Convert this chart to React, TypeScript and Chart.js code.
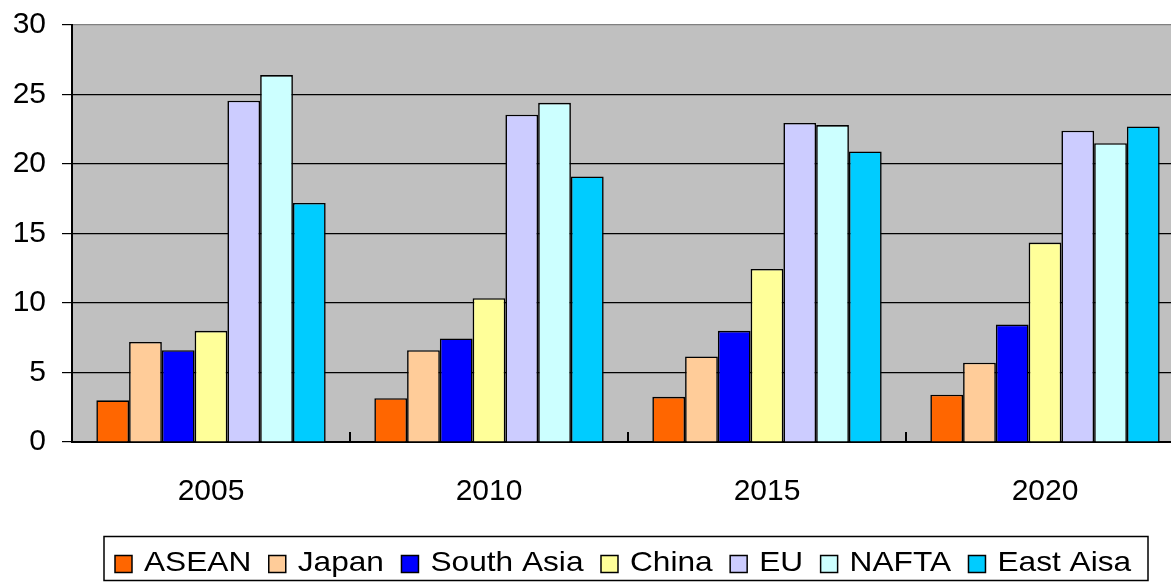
import React, { useEffect, useRef } from "react";
import { Chart, registerables } from "chart.js";

Chart.register(...registerables);

// ---- data ----
const categories = ["2005", "2010", "2015", "2020"];
const seriesNames = ["ASEAN", "Japan", "South Asia", "China", "EU", "NAFTA", "East Aisa"];
const aseanValues = [3.0, 3.15, 3.25, 3.4];
const japanValues = [7.2, 6.6, 6.15, 5.7];
const southAsiaValues = [6.6, 7.45, 8.0, 8.45];
const chinaValues = [8.0, 10.35, 12.45, 14.35];
const euValues = [24.55, 23.55, 22.95, 22.4];
const naftaValues = [26.4, 24.4, 22.8, 21.5];
const eastAsiaValues = [17.2, 19.1, 20.9, 22.7];
const yMin = 0;
const yMax = 30;
const yStep = 5;

const seriesColors = ["#FF6600", "#FFCC99", "#0000FF", "#FFFF99", "#CCCCFF", "#CCFFFF", "#00CCFF"];
const allValues = [aseanValues, japanValues, southAsiaValues, chinaValues, euValues, naftaValues, eastAsiaValues];

// ---- layout ----
const VIEW_W = 1171;
const VIEW_H = 582;
const CANVAS_W = 1200;
const PLOT_LEFT = 72;
const PLOT_RIGHT = 1184;
const PLOT_TOP = 25;
const PLOT_BOTTOM = 442;
const FONT = '"Liberation Sans", Arial, sans-serif';
const TEXT_SX = 1.13;

const plotBgPlugin = {
  id: "plotBg",
  beforeDraw(chart: any) {
    const { ctx, chartArea } = chart;
    ctx.save();
    ctx.fillStyle = "#C0C0C0";
    ctx.fillRect(chartArea.left, chartArea.top, chartArea.right - chartArea.left, chartArea.bottom - chartArea.top);
    ctx.restore();
  },
};

const boxedLegendPlugin = {
  id: "boxedLegend",
  afterDraw(chart: any) {
    const ctx = chart.ctx;
    ctx.save();
    ctx.strokeStyle = "#000";
    ctx.lineWidth = 1.5;
    ctx.strokeRect(104, 536.5, 1044, 44);
    ctx.font = `28px ${FONT}`;
    ctx.textBaseline = "middle";
    ctx.textAlign = "left";
    const cy = 564;
    let x = 115;
    const box = 17;
    chart.data.datasets.forEach((ds: any) => {
      ctx.fillStyle = ds.backgroundColor;
      ctx.fillRect(x, cy - box / 2, box, box);
      ctx.lineWidth = 1.5;
      ctx.strokeStyle = "#000";
      ctx.strokeRect(x, cy - box / 2, box, box);
      x += box + 12;
      const w = ctx.measureText(ds.label).width * TEXT_SX;
      ctx.save();
      ctx.translate(x, cy - 1);
      ctx.scale(TEXT_SX, 1);
      ctx.fillStyle = "#000";
      ctx.fillText(ds.label, 0, 0);
      ctx.restore();
      x += w + 17.5;
    });
    ctx.restore();
  },
};

export default function App() {
  const canvasRef = useRef<HTMLCanvasElement | null>(null);

  useEffect(() => {
    const canvas = canvasRef.current;
    if (!canvas) return;
    const chart = new Chart(canvas, {
      type: "bar",
      data: {
        labels: categories,
        datasets: seriesNames.map((name, i) => ({
          label: name,
          data: allValues[i],
          backgroundColor: seriesColors[i],
          borderColor: "#000",
          borderWidth: 1.6,
          categoryPercentage: 0.825,
          barPercentage: 1,
        })),
      },
      options: {
        animation: false,
        responsive: false,
        maintainAspectRatio: false,
        devicePixelRatio: 1,
        layout: {
          padding: { left: 0, top: PLOT_TOP, right: CANVAS_W - PLOT_RIGHT, bottom: 0 },
        },
        plugins: {
          legend: { display: false },
          tooltip: { enabled: false },
          title: { display: false },
        },
        scales: {
          x: {
            type: "category",
            offset: true,
            afterFit: (s: any) => {
              s.height = VIEW_H - PLOT_BOTTOM;
              s.paddingLeft = 0;
              s.paddingRight = 0;
            },
            grid: {
              offset: true,
              drawOnChartArea: false,
              drawTicks: true,
              tickLength: -10,
              color: "#000",
              lineWidth: 2,
            },
            border: { display: true, color: "#000", width: 2 },
            ticks: {
              color: "#000",
              font: { family: FONT, size: 30 },
              padding: 42,
              maxRotation: 0,
            },
          },
          y: {
            min: yMin,
            max: yMax,
            afterFit: (s: any) => {
              s.width = PLOT_LEFT;
              s.paddingTop = 0;
              s.paddingBottom = 0;
            },
            grid: {
              color: (c: any) => (c.tick && c.tick.value === yMax ? "#808080" : "#000"),
              tickColor: "#000",
              lineWidth: 1.2,
              drawTicks: true,
              tickLength: 10,
            },
            border: { display: true, color: "#000", width: 2 },
            ticks: {
              stepSize: yStep,
              color: "#000",
              font: { family: FONT, size: 30 },
              padding: 16,
            },
          },
        },
      },
      plugins: [plotBgPlugin, boxedLegendPlugin],
    } as any);
    return () => chart.destroy();
  }, []);

  return (
    <div
      style={{
        position: "fixed",
        left: 0,
        top: 0,
        width: VIEW_W,
        height: VIEW_H,
        overflow: "hidden",
        background: "#fff",
      }}
    >
      <canvas
        ref={canvasRef}
        width={CANVAS_W}
        height={VIEW_H}
        style={{ display: "block", width: CANVAS_W, height: VIEW_H }}
      />
    </div>
  );
}
